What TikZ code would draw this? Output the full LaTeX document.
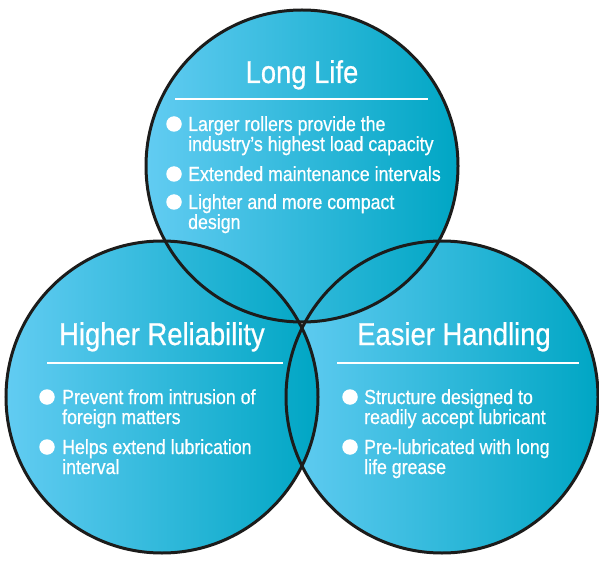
\documentclass[tikz,border=0pt]{standalone}
\usepackage{fontspec}
\setmainfont{Liberation Sans}[FakeStretch=0.88]
\newfontfamily\vennfont{Liberation Sans}[FakeStretch=0.87, FakeBold=0.6]
\definecolor{cLight}{RGB}{98,204,242}
\definecolor{cMid}{RGB}{0,186,220}
\definecolor{cDark}{RGB}{0,166,196}
\definecolor{cLine}{RGB}{28,28,27}
\tikzset{
  venn/.style={circle, minimum size=312pt, inner sep=0pt, outer sep=0pt,
    left color=cLight, middle color=cMid, right color=cDark, draw=none},
  ring/.style={draw=cLine, line width=3pt},
  rule/.style={draw=white, line width=1.4pt},
  title/.style={anchor=base, inner sep=0pt, text=white, font=\vennfont\fontsize{31.5}{31}\selectfont},
  txt/.style={anchor=base west, inner sep=0pt, text=white, font=\vennfont\fontsize{20.4}{20}\selectfont},
  dot/.style={circle, fill=white, draw=none, minimum size=15.5pt, inner sep=0pt}
}
\begin{document}
\begin{tikzpicture}[x=1pt,y=-1pt]
\useasboundingbox (0,0) rectangle (599,561);
% fills (right, top, left)
\node[venn] (right) at (442,397) {};
\node[venn] (top) at (302,166) {};
\node[venn] (left) at (162,397) {};
% outlines
\draw[ring] (right.center) circle (156);
\draw[ring] (top.center) circle (156);
\draw[ring] (left.center) circle (156);
% titles
\node[title] (tTop) at (302,83) {Long Life};
\node[title] (tLeft) at (162,345) {Higher Reliability};
\node[title] (tRight) at (454,345) {Easier Handling};
\draw[rule] (175,99) -- (428,99);
\draw[rule] (47,363) -- (283,363);
\draw[rule] (337,363) -- (579,363);
% top items
\node[dot] (bt1) at (174,124) {};
\node[txt] (t1a) at (188,131) {Larger rollers provide the};
\node[txt] (t1b) at (188,151) {industry’s highest load capacity};
\node[dot] (bt2) at (174,174) {};
\node[txt] (t2a) at (188,181) {Extended maintenance intervals};
\node[dot] (bt3) at (174,202) {};
\node[txt] (t3a) at (188,209) {Lighter and more compact};
\node[txt] (t3b) at (188,229) {design};
% left items
\node[dot] (bl1) at (47,397) {};
\node[txt] (l1a) at (62,404) {Prevent from intrusion of};
\node[txt] (l1b) at (62,424) {foreign matters};
\node[dot] (bl2) at (47,447) {};
\node[txt] (l2a) at (62,454) {Helps extend lubrication};
\node[txt] (l2b) at (62,474) {interval};
% right items
\node[dot] (br1) at (350,397) {};
\node[txt] (r1a) at (364,404) {Structure designed to};
\node[txt] (r1b) at (364,424) {readily accept lubricant};
\node[dot] (br2) at (350,447) {};
\node[txt] (r2a) at (364,454) {Pre-lubricated with long};
\node[txt] (r2b) at (364,474) {life grease};
\end{tikzpicture}
\end{document}
